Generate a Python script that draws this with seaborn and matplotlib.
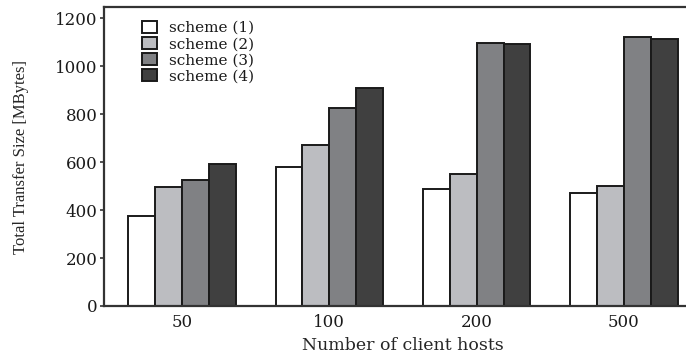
import matplotlib
matplotlib.use("Agg")
import matplotlib.pyplot as plt
import seaborn as sns
import pandas as pd

hosts = ["50", "100", "200", "500"]
schemes = ["scheme (1)", "scheme (2)", "scheme (3)", "scheme (4)"]
scheme1 = [377, 580, 486, 469]
scheme2 = [497, 671, 549, 499]
scheme3 = [525, 825, 1096, 1121]
scheme4 = [592, 910, 1093, 1112]
yticks = [0, 200, 400, 600, 800, 1000, 1200]

rows = []
for name, vals in zip(schemes, [scheme1, scheme2, scheme3, scheme4]):
    for h, v in zip(hosts, vals):
        rows.append({"hosts": h, "scheme": name, "size": v})
df = pd.DataFrame(rows)

sns.set_theme(style="ticks")
plt.rcParams["font.family"] = ["DejaVu Serif", "Liberation Serif"]
plt.rcParams["text.color"] = "#1a1a1a"
plt.rcParams["xtick.color"] = "#1a1a1a"
plt.rcParams["ytick.color"] = "#1a1a1a"

palette = ["#ffffff", "#bcbdc1", "#808184", "#404040"]

fig = plt.figure(figsize=(6.86, 3.56), dpi=100)
ax = fig.add_axes([104 / 686, 50 / 356, 598 / 686, 299 / 356])

sns.barplot(data=df, x="hosts", y="size", hue="scheme", order=hosts,
            hue_order=schemes, palette=palette, width=0.73, gap=0,
            edgecolor="#1a1a1a", linewidth=1.4, saturation=1, ax=ax)

ax.set_xlim(-0.53, 3.53)
ax.set_ylim(0, 1246)
ax.set_yticks(yticks)
ax.set_yticklabels([str(t) for t in yticks], fontsize=12)
ax.tick_params(axis="x", length=0, labelsize=12, pad=6)
ax.tick_params(axis="y", length=3, width=1.2, pad=1.5, color="#333333")
ax.set_xlabel("Number of client hosts", fontsize=12.5, labelpad=4)
ax.set_ylabel("Total Transfer Size [MBytes]", fontsize=12,
              family="Liberation Serif", labelpad=19)

for side in ["left", "top", "bottom"]:
    ax.spines[side].set_linewidth(1.6)
    ax.spines[side].set_color("#333333")
ax.spines["right"].set_visible(False)

leg = ax.legend(loc="upper left", bbox_to_anchor=(0.053, 0.975), frameon=False,
                fontsize=11, handlelength=1.0, handleheight=0.85,
                handletextpad=0.8, labelspacing=0.12, borderaxespad=0)

fig.savefig("out.png", dpi=100)
